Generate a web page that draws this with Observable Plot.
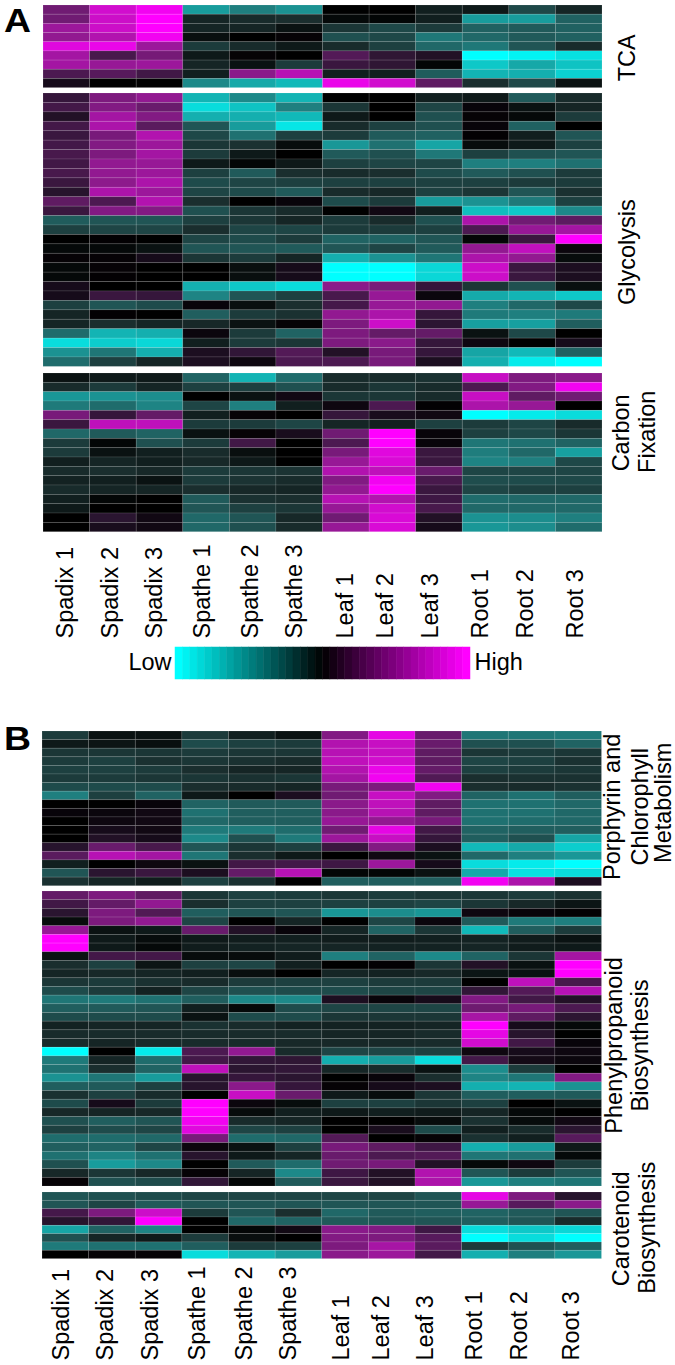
<!DOCTYPE html>
<html>
<head>
<meta charset="utf-8">
<script src="https://cdn.jsdelivr.net/npm/d3@7"></script>
<script src="https://cdn.jsdelivr.net/npm/@observablehq/plot@0.6"></script>
<style>
html,body{margin:0;padding:0;background:#fff}
#page{position:relative;width:675px;height:1365px;overflow:hidden;font-family:"Liberation Sans",Arial,sans-serif}
#page svg{position:absolute;overflow:visible;background:transparent}
.letter{position:absolute;font-weight:bold;font-size:34px;line-height:normal;color:#000;transform:scaleX(1.1);transform-origin:left center}
</style>
</head>
<body>
<div id="page"></div>
<script>
const samples = ["Spadix 1","Spadix 2","Spadix 3","Spathe 1","Spathe 2","Spathe 3","Leaf 1","Leaf 2","Leaf 3","Root 1","Root 2","Root 3"];

const tcaRows = [
[45,82,95,-60,-48,-56,0,0,-10,-8,-25,-12],
[45,80,100,-12,-14,-15,-3,-2,-10,-60,-60,-35],
[62,80,100,-12,-12,-6,-18,-25,-20,-35,-32,-35],
[58,70,95,-5,0,2,-28,-25,-45,-38,-32,-35],
[88,92,62,-20,-14,-8,-14,-22,-38,-45,-30,-14],
[65,28,47,-8,2,0,33,17,12,-100,-95,-88],
[65,60,62,-12,-6,-20,22,17,-2,-78,-65,-76],
[30,35,25,-10,55,72,-10,-10,-33,-70,-68,-82],
[8,0,0,-52,-65,-72,92,82,38,-15,-25,-6]];

const glycolysisRows = [
[20,50,58,-70,-52,-70,0,0,-10,-8,-32,-14],
[26,52,42,-86,-76,-48,-18,0,-24,3,-6,-12],
[12,65,52,-68,-68,-72,-8,0,-28,2,-3,-20],
[26,68,36,-30,-60,-90,-14,-22,-28,3,-35,0],
[22,48,70,-25,-42,-22,-20,-32,-35,1,-10,-30],
[26,52,62,-18,-16,-4,-58,-42,-64,-4,-8,-22],
[28,50,65,-20,-8,0,-32,-28,-45,-22,-28,-30],
[25,58,60,-8,-2,-8,-22,-24,-24,-48,-48,-42],
[28,58,62,-22,-32,-15,-14,-15,-26,-32,-28,-20],
[22,56,68,-26,-24,-22,-22,-22,-22,-22,-20,-20],
[14,68,62,-24,-26,-32,-14,-13,-22,-18,-30,-16],
[38,30,70,-15,0,3,-26,-20,-60,-56,-46,-22],
[22,52,52,-28,-18,-14,0,6,-10,-74,-78,-52],
[-33,-30,-30,-22,-18,-12,-20,-14,-28,68,45,37],
[-22,-24,-24,-15,-24,-24,-20,-20,-22,30,60,65],
[0,1,0,-24,-26,-20,-36,-36,-30,-2,22,100],
[-3,-3,-6,-30,-30,-32,-30,-24,-32,58,76,4],
[2,2,8,-18,-20,-12,-68,-56,-44,68,58,-4],
[-3,2,0,0,-5,8,-100,-100,-84,80,22,10],
[-3,1,0,0,-5,8,-100,-100,-84,80,22,10],
[8,0,0,-68,-78,-86,55,48,20,-18,-28,-5],
[8,22,20,-50,-30,-22,28,60,4,-66,-70,-78],
[-22,-30,-26,3,-5,-15,27,60,58,-48,-38,-25],
[-12,1,0,-34,-20,-16,58,68,20,-46,-48,-46],
[-12,-15,-12,-13,-6,2,50,80,16,-62,-62,-34],
[-40,-70,-68,4,-20,-36,50,40,40,-6,-25,0],
[-86,-80,-84,-10,-20,-18,50,55,20,5,0,8],
[-56,-44,-68,10,18,33,12,48,20,-64,-72,-36],
[-40,-22,-12,10,5,30,30,48,10,-68,-92,-100]];

const carbonRows = [
[-6,-8,-8,-36,-70,-40,-14,-14,-16,78,50,55],
[-14,-20,-12,-22,-22,-28,-14,-18,-14,30,52,95],
[-58,-56,-54,0,-6,6,-18,-18,-14,78,38,45],
[-46,-40,-50,-24,-48,-10,5,30,1,68,60,0],
[48,20,40,-10,2,0,20,9,6,-100,-92,-86],
[22,75,75,-20,-20,-24,-12,-10,-22,-20,-24,-14],
[-38,-32,-36,-6,2,9,45,100,3,-22,-25,-18],
[-20,-2,-28,-20,25,0,30,100,3,-44,-42,-36],
[-20,-6,-10,-14,-5,0,48,88,22,-47,-38,-62],
[-10,-12,-10,-13,-8,0,60,85,22,-50,-48,-25],
[-14,-15,-13,-20,-18,-17,70,75,42,-24,-24,-24],
[-11,-10,-6,-20,-17,-14,52,95,28,-27,-26,-25],
[-14,-12,-12,-15,-13,-12,58,100,22,-24,-22,-22],
[-10,-2,0,-32,-16,-15,72,70,24,-40,-38,-38],
[-8,0,0,-30,-22,-18,60,82,28,-38,-38,-38],
[0,15,6,-38,-30,-13,45,85,12,-56,-54,-48],
[0,9,6,-38,-28,-14,60,85,8,-58,-54,-40]];

const porphyrinRows = [
[-20,-6,-6,-20,-10,-6,52,90,42,-44,-44,-46],
[-8,-7,-5,-26,-22,-20,70,78,42,-28,-28,-36],
[-18,-18,-18,-20,-18,-18,72,78,38,-18,-20,-18],
[-20,-22,-16,-18,-16,-14,75,82,38,-24,-22,-16],
[-22,-22,-20,-15,-12,-12,70,92,40,-22,-20,-18],
[-20,-20,-18,-18,-16,-18,65,95,32,-15,-16,-16],
[-26,-26,-26,-15,-14,-12,48,50,95,-15,-14,-16],
[-48,-22,-36,-8,0,10,45,78,52,-36,-42,-34],
[0,0,3,-36,-32,-32,55,75,38,-42,-42,-38],
[3,4,6,-42,-34,-34,55,72,38,-42,-42,-38],
[0,5,6,-38,-34,-34,60,58,48,-42,-40,-38],
[0,8,6,-46,-46,-40,45,90,25,-36,-34,-34],
[0,12,8,-52,-28,-46,62,78,20,-34,-28,-64],
[14,42,28,-30,-18,-22,22,52,10,-72,-66,-80],
[36,72,65,-44,-15,-8,0,6,-6,-38,-48,-58],
[-10,0,5,-6,25,26,24,62,8,-86,-92,-100],
[-30,15,22,10,40,72,-2,-2,-6,-66,-88,-86],
[-16,-12,-9,-22,-16,0,-34,-34,-34,95,68,10]];

const phenylRows = [
[40,50,38,-18,-22,-20,-18,-20,-18,-18,-20,-16],
[25,40,58,-15,-22,-22,-22,-22,-24,-18,-13,-7],
[15,50,32,-34,-30,-30,-58,-54,-58,5,3,1],
[-4,50,58,-24,0,-12,0,-24,4,-32,-46,-48],
[60,-6,-8,42,12,3,-12,-36,-18,-72,-34,-20],
[100,-8,-4,-8,-9,-10,-9,-9,-10,-11,-9,-6],
[100,-8,-3,-9,-11,-12,-12,-11,-11,-12,-9,-8],
[-6,26,26,-4,-4,-9,-48,-36,-52,-36,-18,65],
[-15,-22,-7,-22,-24,-10,0,1,-18,12,-6,100],
[-12,-13,-12,-10,-5,0,-12,-11,-13,-7,-6,100],
[-18,-20,-16,-14,-20,-22,-22,-20,-20,0,75,28],
[-26,-20,-11,-24,-28,-26,-26,-24,-24,18,33,72],
[-44,-46,-42,-34,-52,-52,10,3,8,52,25,12],
[-34,-32,-30,-10,-3,-26,-24,-24,-24,44,48,30],
[-26,-26,-26,-6,-26,-26,-18,-18,-18,66,38,16],
[-11,-12,-12,-16,-14,-11,-11,-11,-12,100,8,-3],
[-14,-14,-14,-14,-14,-14,-12,-12,-14,90,14,0],
[-14,-12,-14,-14,-14,-13,-13,-13,-14,82,25,3],
[-100,0,-92,30,58,-14,-24,-24,-22,5,8,5],
[-46,-12,-40,26,18,17,-68,-60,-86,26,7,4],
[-42,-15,-36,75,15,18,-12,-14,-6,-54,-20,0],
[-56,-44,-60,14,20,15,0,3,-15,-50,-44,52],
[-34,-32,-22,14,55,20,2,8,10,-68,-70,-56],
[-16,-22,-14,0,78,42,-8,-4,-18,-34,-34,-32],
[-26,8,-20,100,4,-4,-22,-22,-18,-22,0,-6],
[-13,-12,-13,100,-4,-10,-8,-10,-9,-12,-3,0],
[-28,-34,-30,95,-14,-12,0,0,-4,-16,-4,6],
[-22,-26,-24,88,-24,-22,0,9,-26,-10,-14,15],
[-40,-40,-38,48,-40,-38,33,0,2,-16,-10,35],
[-34,-36,-24,4,-6,-22,48,38,24,-68,-60,-8],
[-42,-50,-42,14,-8,-12,42,30,33,-44,-42,-3],
[-28,-60,-52,0,-32,-40,45,48,12,-3,5,-20],
[-13,-18,-13,2,-12,-52,24,12,70,-30,-20,-30],
[2,-28,-26,18,-2,-32,22,12,68,-58,-48,-44]];

const carotenoidRows = [
[-30,-28,-26,-24,-24,-24,-24,-24,-30,90,50,14],
[-30,-24,-32,-30,-30,-30,-30,-30,-30,60,35,55],
[27,50,80,-20,-30,-15,-38,-32,-34,-36,-32,-30],
[14,18,100,0,-38,-36,-32,-30,-30,-34,-30,-14],
[-64,-36,-50,0,-2,6,55,52,24,-86,-78,-84],
[-28,-12,-8,-20,-5,0,52,50,35,-100,-86,-100],
[-46,-42,-42,-34,-20,-22,50,66,36,-20,-28,-34],
[0,2,2,-86,-70,-60,55,62,26,-68,-48,-58]];

// Colour ramp: cyan - black - magenta, with the slight grey lift of the picture
const rampDomain = [-100,-66,-48,-30,-15,0,15,37,55,77,100];
const rampRange = ["#00ffff","#15aaaa","#1f7f7f","#205555","#1a2e2e","#000000","#2a1530","#5c1b60","#8a1a8a","#c410c0","#ff00ff"];

const page = document.getElementById("page");
const W = 675, FONT = '"Liberation Sans",Arial,sans-serif', TS = 23.5;

function place(el, top, left) {
  el.style.top = top + "px";
  el.style.left = (left || 0) + "px";
  page.appendChild(el);
}

function heatmap(rows, top, bottom, left, right, titles) {
  const cells = rows.flatMap((r, i) => r.map((v, j) => ({row: i, sample: samples[j], v})));
  const el = Plot.plot({
    width: W, height: bottom - top,
    marginLeft: left, marginRight: W - right, marginTop: 0, marginBottom: 0,
    style: {fontFamily: FONT, background: "transparent"},
    x: {type: "band", domain: samples, padding: 0, round: false, axis: null},
    y: {type: "band", domain: d3.range(rows.length), padding: 0, round: false, axis: null},
    color: {type: "linear", domain: rampDomain, range: rampRange},
    marks: [
      Plot.cell(cells, {x: "sample", y: "row", fill: "v", stroke: "#fff", strokeOpacity: 0.13, strokeWidth: 0.8}),
      ...titles.map(t => Plot.text([t.text], {
        frameAnchor: "right", rotate: -90, textAnchor: "middle", lineAnchor: "middle",
        dx: t.x - right, dy: t.dy, fontSize: TS, fill: "#000"
      }))
    ]
  });
  place(el, top);
}

function labels(top, bottom, left, right, nudges) {
  const el = Plot.plot({
    width: W, height: bottom - top,
    marginLeft: left, marginRight: W - right, marginTop: 0, marginBottom: 0,
    style: {fontFamily: FONT, background: "transparent"},
    x: {type: "band", domain: samples, padding: 0, round: false, axis: null},
    marks: samples.map((s, i) => Plot.text([s], {
      x: d => d, frameAnchor: "bottom", rotate: -90, textAnchor: "start", lineAnchor: "middle",
      dx: nudges[i], fontSize: TS, fill: "#000"
    }))
  });
  place(el, top);
}

function letter(ch, top) {
  const d = document.createElement("div");
  d.className = "letter";
  d.textContent = ch;
  d.style.left = "4px";
  d.style.top = top + "px";
  page.appendChild(d);
}

// Panel A
letter("A", 0.5);
heatmap(tcaRows, 4.7, 87.3, 43, 602, [{text: "TCA", x: 627, dy: 11}]);
heatmap(glycolysisRows, 93.3, 366.7, 43, 602, [{text: "Glycolysis", x: 627, dy: 22}]);
heatmap(carbonRows, 373.3, 532, 43, 602, [{text: "Carbon", x: 621, dy: -20}, {text: "Fixation", x: 647, dy: -21}]);
labels(540, 638, 43, 602, [-1,-3,-5,-4,-3,-5,-1,-7,-9,-6,-7,-4]);

// Colour key
const keySteps = d3.range(40);
const keyEl = Plot.plot({
  width: 295, height: 32, margin: 0,
  style: {fontFamily: FONT, background: "transparent"},
  x: {type: "band", domain: keySteps, padding: 0, round: false, axis: null},
  color: {type: "linear", domain: [0, 19.5, 39], range: ["#00ffff", "#000000", "#ff00ff"]},
  marks: [
    Plot.cell(keySteps, {x: d => d, fill: d => d, stroke: d => d, strokeWidth: 0.5}),
    Plot.text(["Low"], {frameAnchor: "left", textAnchor: "end", dx: -4, dy: -1, fontSize: TS, fill: "#000"}),
    Plot.text(["High"], {frameAnchor: "right", textAnchor: "start", dx: 4, dy: -1, fontSize: TS, fill: "#000"})
  ]
});
place(keyEl, 647, 174.5);

// Panel B
letter("B", 719);
heatmap(porphyrinRows, 731, 885.7, 42, 601.5, [
  {text: "Porphyrin and", x: 612, dy: -2},
  {text: "Chlorophyll", x: 640, dy: -2},
  {text: "Metabolism", x: 663, dy: -6}
]);
heatmap(phenylRows, 891, 1186, 42, 601.5, [
  {text: "Phenylpropanoid", x: 613.5, dy: 6.5},
  {text: "Biosynthesis", x: 640, dy: 6.5}
]);
heatmap(carotenoidRows, 1191.7, 1258.3, 42, 601.5, [
  {text: "Carotenoid", x: 621, dy: 3},
  {text: "Biosynthesis", x: 647, dy: 2}
]);
labels(1262, 1360, 42, 601.5, [-4,-7,-9,-8,-8,-10,-4,-11,-13,-11,-13,-7]);
</script>
</body>
</html>
